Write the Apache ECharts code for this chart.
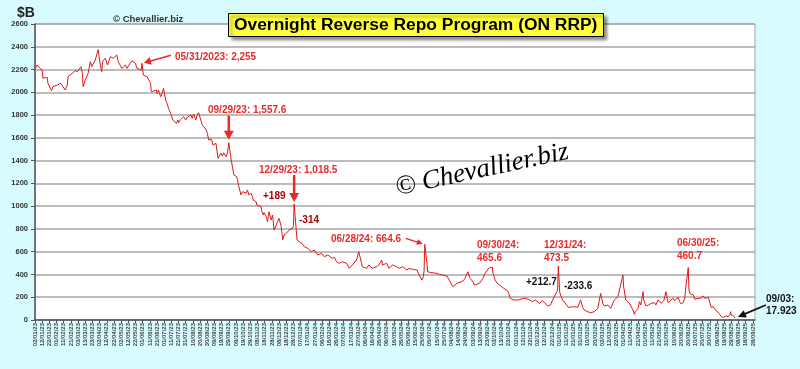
<!DOCTYPE html>
<html><head><meta charset="utf-8">
<script src="https://cdn.jsdelivr.net/npm/echarts/dist/echarts.min.js"></script>
<style>html,body{margin:0;padding:0;background:#d7fbff}#c{width:800px;height:369px}</style>
</head><body><div id="c"></div>
<script>
// ---- data ----
const axisStart = '2023-01-02';
const axisEnd = '2025-10-01';
const labelEveryDays = 10;
const yMin = 0, yMax = 2600, yStep = 200;

const obsDates = [
'2023-01-03','2023-01-05','2023-01-09','2023-01-12','2023-01-13','2023-01-19','2023-01-20','2023-01-25','2023-01-27','2023-02-02',
'2023-02-07','2023-02-09','2023-02-13','2023-02-16','2023-02-17','2023-02-23','2023-02-27','2023-03-02','2023-03-07','2023-03-09',
'2023-03-10','2023-03-13','2023-03-17','2023-03-20','2023-03-22','2023-03-27','2023-03-31','2023-04-03','2023-04-05','2023-04-06',
'2023-04-10','2023-04-13','2023-04-17','2023-04-21','2023-04-26','2023-04-28','2023-05-03','2023-05-08','2023-05-10','2023-05-15',
'2023-05-17','2023-05-22','2023-05-24','2023-05-30','2023-05-31','2023-06-02','2023-06-07','2023-06-12','2023-06-13','2023-06-15',
'2023-06-20','2023-06-21','2023-06-23','2023-06-26','2023-06-28','2023-06-30','2023-07-03','2023-07-05','2023-07-07','2023-07-10',
'2023-07-13','2023-07-18','2023-07-20','2023-07-21','2023-07-24','2023-07-28','2023-07-31','2023-08-02','2023-08-07','2023-08-09',
'2023-08-11','2023-08-14','2023-08-16','2023-08-18','2023-08-23','2023-08-28','2023-08-30','2023-09-01','2023-09-05','2023-09-07',
'2023-09-08','2023-09-11','2023-09-14','2023-09-18','2023-09-20','2023-09-22','2023-09-25','2023-09-27','2023-09-29','2023-10-02',
'2023-10-04','2023-10-06','2023-10-10','2023-10-11','2023-10-13','2023-10-16','2023-10-18','2023-10-20','2023-10-23','2023-10-25',
'2023-10-27','2023-10-30','2023-11-01','2023-11-02','2023-11-06','2023-11-07','2023-11-09','2023-11-13','2023-11-14','2023-11-16',
'2023-11-17','2023-11-20','2023-11-22','2023-11-24','2023-11-27','2023-11-29','2023-12-01','2023-12-04','2023-12-06','2023-12-08',
'2023-12-11','2023-12-13','2023-12-15','2023-12-18','2023-12-20','2023-12-22','2023-12-27','2023-12-28','2023-12-29',
'2024-01-02','2024-01-03','2024-01-05','2024-01-09','2024-01-12','2024-01-17','2024-01-19','2024-01-22','2024-01-26','2024-01-31',
'2024-02-05','2024-02-09','2024-02-14','2024-02-20','2024-02-23','2024-02-26','2024-03-01','2024-03-05','2024-03-11','2024-03-15',
'2024-03-19','2024-03-25','2024-03-28','2024-04-01','2024-04-02','2024-04-08','2024-04-11','2024-04-16','2024-04-22','2024-04-25',
'2024-04-29','2024-04-30','2024-05-06','2024-05-09','2024-05-14','2024-05-20','2024-05-23','2024-05-28','2024-06-03','2024-06-06',
'2024-06-11','2024-06-17','2024-06-20','2024-06-24','2024-06-26','2024-06-27','2024-06-28','2024-07-01','2024-07-02','2024-07-08',
'2024-07-09','2024-07-15','2024-07-18','2024-07-23','2024-07-29','2024-07-30','2024-08-01','2024-08-06','2024-08-08','2024-08-12',
'2024-08-13','2024-08-16','2024-08-21','2024-08-23','2024-08-27','2024-08-30','2024-09-03','2024-09-05','2024-09-06','2024-09-12',
'2024-09-17','2024-09-20','2024-09-25','2024-09-30','2024-10-01','2024-10-04','2024-10-07','2024-10-10','2024-10-16','2024-10-21',
'2024-10-23','2024-10-25','2024-10-30','2024-11-01','2024-11-06','2024-11-12','2024-11-13','2024-11-15','2024-11-20','2024-11-25',
'2024-11-29','2024-12-05','2024-12-09','2024-12-12','2024-12-16','2024-12-20','2024-12-23','2024-12-26','2024-12-27','2024-12-30',
'2024-12-31','2025-01-02','2025-01-06','2025-01-10','2025-01-14','2025-01-16','2025-01-21','2025-01-27','2025-01-31','2025-02-03',
'2025-02-05','2025-02-10','2025-02-14','2025-02-19','2025-02-24','2025-02-28','2025-03-03','2025-03-05','2025-03-10','2025-03-14',
'2025-03-19','2025-03-24','2025-03-31','2025-04-01','2025-04-04','2025-04-09','2025-04-14','2025-04-16','2025-04-17','2025-04-21',
'2025-04-23','2025-04-25','2025-04-28','2025-04-29','2025-05-02','2025-05-06','2025-05-09','2025-05-14','2025-05-16','2025-05-19',
'2025-05-21','2025-05-23','2025-05-27','2025-05-30','2025-06-02','2025-06-04','2025-06-06','2025-06-09','2025-06-11','2025-06-13',
'2025-06-16','2025-06-18','2025-06-20','2025-06-23','2025-06-25','2025-06-27','2025-06-30','2025-07-01','2025-07-03','2025-07-07',
'2025-07-09','2025-07-14','2025-07-15','2025-07-17','2025-07-21','2025-07-23','2025-07-28','2025-07-30','2025-08-01','2025-08-04',
'2025-08-06','2025-08-08','2025-08-12','2025-08-15','2025-08-18','2025-08-22','2025-08-25','2025-08-27','2025-08-28','2025-08-29',
'2025-09-02','2025-09-03'
];
const rrpValues = [
2215,2240,2210,2196,2123,2132,2079,2014,2050,2064,
2079,2093,2020,2064,2137,2166,2190,2181,2225,2166,
2050,2108,2166,2269,2225,2284,2375,2240,2181,2269,
2298,2240,2313,2298,2328,2269,2210,2240,2210,2260,
2278,2254,2210,2196,2255,2150,2137,2079,2005,1991,
2020,1991,2020,1962,1991,2035,1932,1903,1859,1815,
1757,1727,1757,1734,1763,1786,1757,1780,1801,1771,
1809,1757,1801,1821,1713,1675,1640,1581,1587,1537,
1522,1552,1420,1464,1440,1469,1435,1464,1557.6,1420,
1347,1274,1259,1230,1171,1098,1127,1142,1113,1142,
1098,1113,1083,1054,1039,1010,1025,996,952,922,
943,908,864,951,878,922,790,834,864,893,
820,703,747,761,776,790,805,829.5,1018.5,
704.5,700,688,673,644,629,638,600,615,571,
586,556,571,542,551,512,498,512,498,454,
483,527,600,498,468,454,483,454,468,483,
527,483,498,454,483,468,454,468,439,454,
445,439,400,350,380,430,664.6,498,424,415,
404,410,401,395,386,395,351,293,307,322,
337,331,346,366,424,366,337,307,293,322,
366,410,454,465.6,410,351,322,307,278,258,
234,190,176,161,176,190,205,190,181,161,
176,146,170,152,123,132,176,211,220,260.8,
473.5,239.9,176,146,111,102,117,111,176,111,
88,73,64,73,102,234,146,123,132,102,
176,205,395,293,176,146,88,50,73,102,
161,132,249,176,123,132,146,152,132,176,
161,146,170,249,152,161,176,190,170,161,
199,161,141,152,190,307,460.7,263,228,220,
182,190,199,190,211,190,199,199,111,117,
94,82,59,29,23,35,29,47,73,44,
29,17.923
];

// annotation texts and the observations they point at
const annotations = [
  {text:'05/31/2023: 2,255', date:'2023-05-31', value:2255},
  {text:'09/29/23: 1,557.6', date:'2023-09-29', value:1557.6},
  {text:'12/29/23: 1,018.5', date:'2023-12-29', value:1018.5},
  {text:'06/28/24: 664.6', date:'2024-06-28', value:664.6},
  {text:'09/03:', date:'2025-09-03', value:17.923}
];

// ---- build axis categories (calendar days) ----
const cats = [];
for (let t = Date.parse(axisStart + 'T00:00:00Z'); t <= Date.parse(axisEnd + 'T00:00:00Z'); t += 864e5) {
  cats.push(new Date(t).toISOString().slice(0, 10));
}
const idx = {};
cats.forEach((c, i) => idx[c] = i);
const seriesData = obsDates.map((d, i) => [idx[d], rrpValues[i]]);

const FONT = '"Liberation Sans", Arial, sans-serif';
const chart = echarts.init(document.getElementById('c'));
chart.setOption({
  animation: false,
  backgroundColor: '#d7fbff',
  title: {
    text: 'Overnight Reverse Repo Program (ON RRP)',
    left: 228, top: 13,
    padding: [4, 6, 3, 6],
    backgroundColor: '#ffff3c',
    borderColor: '#000', borderWidth: 1,
    shadowColor: 'rgba(0,0,0,0.45)', shadowBlur: 3, shadowOffsetX: 3, shadowOffsetY: 3,
    textStyle: {fontFamily: FONT, fontSize: 17.4, fontWeight: 'bold', color: '#000'}
  },
  grid: {left: 35, right: 45, top: 24, bottom: 49, show: true, backgroundColor: '#ffffff', borderColor: '#a6a6a6', borderWidth: 1},
  xAxis: {
    type: 'category', data: cats, boundaryGap: false,
    axisLine: {lineStyle: {color: '#555', width: 1.5}},
    axisTick: {interval: labelEveryDays - 1, length: 3, lineStyle: {color: '#555'}},
    axisLabel: {
      interval: labelEveryDays - 1, rotate: 90, fontSize: 6, fontWeight: 'bold', color: '#444', fontFamily: FONT, margin: 3,
      formatter: v => v.slice(8, 10) + '/' + v.slice(5, 7) + '/' + v.slice(2, 4)
    },
    splitLine: {show: false}
  },
  yAxis: {
    type: 'value', min: yMin, max: yMax, interval: yStep,
    axisLine: {show: true, lineStyle: {color: '#555', width: 1.5}},
    axisTick: {show: true, length: 4, lineStyle: {color: '#555'}},
    axisLabel: {fontSize: 7.5, fontWeight: 'bold', color: '#333', fontFamily: FONT, margin: 7, formatter: v => String(v)},
    splitLine: {lineStyle: {color: '#a6a6a6', width: 1.5}}
  },
  series: [{
    type: 'line', data: seriesData, symbol: 'none', z: 5,
    lineStyle: {color: '#e01818', width: 1}
  }]
});

// ---- annotations ----
function P(date, value) { return chart.convertToPixel({xAxisIndex: 0, yAxisIndex: 0}, [idx[date], value]); }
function txt(text, x, y, color, size, extra) {
  return Object.assign({type: 'text', z: 20, style: {text, x, y, fill: color, font: 'bold ' + size + 'px ' + FONT,
    align: 'left', verticalAlign: 'middle', textAlign: 'left', textVerticalAlign: 'middle'}}, extra || {});
}
function arrow(x1, y1, x2, y2, color, w, hl, hw) {
  const dx = x2 - x1, dy = y2 - y1, L = Math.hypot(dx, dy), ux = dx / L, uy = dy / L;
  const bx = x2 - ux * hl, by = y2 - uy * hl;
  return [
    {type: 'line', z: 20, shape: {x1, y1, x2: bx + ux * 1, y2: by + uy * 1}, style: {stroke: color, lineWidth: w}},
    {type: 'polygon', z: 20, shape: {points: [[x2, y2], [bx - uy * hw, by + ux * hw], [bx + uy * hw, by - ux * hw]]}, style: {fill: color}}
  ];
}
const RED = '#e52b2b', DRED = '#b00000';
const g = [];
g.push(txt('$B', 17, 13, '#222', 14));
g.push(txt('\u00a9 Chevallier.biz', 113, 19.5, '#333', 9.5));
g.push({type: 'text', z: 3, x: 482, y: 170, rotation: 0.21,
  style: {text: '\u00a9 Chevallier.biz', x: 0, y: 0, fill: '#000', font: 'italic 27px "Liberation Serif", serif',
    align: 'center', verticalAlign: 'middle', textAlign: 'center', textVerticalAlign: 'middle'}});

let p = P(annotations[0].date, annotations[0].value);
g.push(txt(annotations[0].text, 175, 57, RED, 10));
g.push(...arrow(p[0] + 29, p[1] - 8, p[0] + 2, p[1] - 0.5, RED, 1.5, 7, 4));

p = P(annotations[1].date, annotations[1].value);
g.push(txt(annotations[1].text, 208, 110, RED, 10));
g.push(...arrow(p[0], p[1] - 27, p[0], p[1] - 3, RED, 2.5, 9, 5));

p = P(annotations[2].date, annotations[2].value);
g.push(txt(annotations[2].text, 259, 170, RED, 10));
g.push(...arrow(p[0], p[1] - 29, p[0], p[1] - 2, RED, 2.5, 9, 5));
g.push(txt('+189', 263, 196, DRED, 10));
g.push(txt('-314', 299, 220, DRED, 10));

p = P(annotations[3].date, annotations[3].value);
g.push(txt(annotations[3].text, 331, 239.5, RED, 10));
g.push(...arrow(p[0] - 19, p[1] - 6, p[0] - 2, p[1] - 0.5, RED, 1.3, 6, 3));

g.push(txt('09/30/24:', 477, 245, RED, 10));
g.push(txt('465.6', 477, 258, RED, 10));
g.push(txt('12/31/24:', 544, 245, RED, 10));
g.push(txt('473.5', 544, 258, RED, 10));
g.push(txt('+212.7', 526, 282.5, '#111', 10));
g.push(txt('-233.6', 564, 286.5, '#111', 10));
g.push(txt('06/30/25:', 677, 243, RED, 10));
g.push(txt('460.7', 677, 256.5, RED, 10));

p = P(annotations[4].date, annotations[4].value);
g.push(txt(annotations[4].text, 766, 299.5, '#111', 10));
g.push(txt('17.923', 766, 311.5, '#111', 10));
g.push(...arrow(p[0] + 31, p[1] - 13, p[0] + 3, p[1] - 1, '#111', 1.8, 8, 4));

chart.setOption({graphic: g});
</script></body></html>
